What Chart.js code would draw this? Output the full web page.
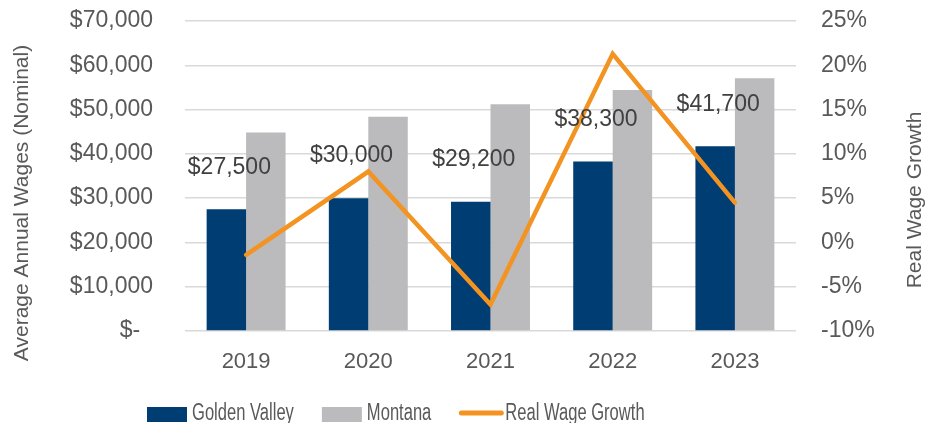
<!DOCTYPE html>
<html>
<head>
<meta charset="utf-8">
<script src="https://cdn.jsdelivr.net/npm/chart.js@4/dist/chart.umd.min.js"></script>
<style>
  html, body { margin: 0; padding: 0; background: #ffffff; overflow: hidden; }
  #wrap { width: 928px; height: 423px; }
</style>
</head>
<body>
<div id="wrap"><canvas id="c" width="928" height="423"></canvas></div>
<script>
const years = ['2019', '2020', '2021', '2022', '2023'];
const goldenValley = [27500, 30000, 29200, 38300, 41700];
const montana = [44800, 48400, 51200, 54400, 57100];
const realWageGrowth = [-1.4, 8.0, -7.0, 21.3, 4.5];
const seriesNames = ['Golden Valley', 'Montana', 'Real Wage Growth'];
const leftTitle = 'Average Annual Wages (Nominal)';
const rightTitle = 'Real Wage Growth';

const NAVY = '#003D73';
const GRAY = '#BBBBBD';
const ORANGE = '#F39321';
const TEXT = '#595959';
const LABEL = '#404040';
const GRID = '#D9D9D9';
const BASE_FONT = "'Liberation Sans', Arial, sans-serif";

function money(v) {
  if (v === 0) return '$-  ';
  return '$' + v.toLocaleString('en-US');
}

const barLabels = {
  id: 'barLabels',
  afterDatasetsDraw(chart) {
    const ctx = chart.ctx;
    const meta = chart.getDatasetMeta(0);
    ctx.save();
    ctx.font = '23px ' + BASE_FONT;
    ctx.fillStyle = LABEL;
    ctx.textAlign = 'center';
    ctx.textBaseline = 'middle';
    meta.data.forEach((bar, i) => {
      ctx.fillText(money(goldenValley[i]), bar.x + 3, bar.y - 42);
    });
    ctx.restore();
  }
};

const extras = {
  id: 'extras',
  afterDraw(chart) {
    const ctx = chart.ctx;
    ctx.save();
    // axis titles
    ctx.font = '21px ' + BASE_FONT;
    ctx.fillStyle = TEXT;
    ctx.textAlign = 'center';
    ctx.textBaseline = 'middle';
    ctx.save();
    ctx.translate(22, 203);
    ctx.rotate(-Math.PI / 2);
    ctx.fillText(leftTitle, 0, 0);
    ctx.restore();
    ctx.save();
    ctx.translate(915, 200);
    ctx.rotate(-Math.PI / 2);
    ctx.fillText(rightTitle, 0, 0);
    ctx.restore();

    // legend (condensed text)
    const ds = chart.data.datasets;
    const sx = 0.72;
    ctx.font = '23px ' + BASE_FONT;
    ctx.textAlign = 'left';
    ctx.textBaseline = 'middle';
    let x = 147;
    const cy = 414;
    ds.forEach((d) => {
      if (d.type === 'line') {
        ctx.strokeStyle = d.borderColor;
        ctx.lineWidth = 5;
        ctx.lineCap = 'round';
        ctx.beginPath();
        ctx.moveTo(x + 2, cy - 1);
        ctx.lineTo(x + 42, cy - 1);
        ctx.stroke();
        x += 46;
      } else {
        ctx.fillStyle = d.backgroundColor;
        ctx.fillRect(x, cy - 7, 40, 15);
        x += 45;
      }
      ctx.fillStyle = TEXT;
      ctx.save();
      ctx.translate(x, cy);
      ctx.scale(sx, 1);
      ctx.fillText(d.label, 0, 0);
      ctx.restore();
      x += ctx.measureText(d.label).width * sx + 28;
    });
    ctx.restore();
  }
};

new Chart(document.getElementById('c'), {
  data: {
    labels: years,
    datasets: [
      {
        type: 'bar', label: seriesNames[0], data: goldenValley,
        backgroundColor: NAVY, borderWidth: 0, yAxisID: 'y', order: 2,
        categoryPercentage: 0.646, barPercentage: 1.0
      },
      {
        type: 'bar', label: seriesNames[1], data: montana,
        backgroundColor: GRAY, borderWidth: 0, yAxisID: 'y', order: 2,
        categoryPercentage: 0.646, barPercentage: 1.0
      },
      {
        type: 'line', label: seriesNames[2], data: realWageGrowth,
        borderColor: ORANGE, backgroundColor: ORANGE, borderWidth: 4.5,
        pointRadius: 0, tension: 0, fill: false, yAxisID: 'y1', order: 1,
        borderCapStyle: 'round', borderJoinStyle: 'miter'
      }
    ]
  },
  options: {
    responsive: false,
    animation: false,
    devicePixelRatio: 1,
    layout: { padding: { top: 21, bottom: 0, left: 0, right: 0 } },
    plugins: {
      legend: { display: false },
      tooltip: { enabled: false }
    },
    scales: {
      x: {
        grid: { display: false, drawTicks: false },
        border: { display: false },
        ticks: { color: TEXT, font: { family: BASE_FONT, size: 22 }, padding: 18 },
        afterFit(s) { s.height = 92; }
      },
      y: {
        position: 'left',
        min: 0, max: 70000,
        grid: { color: GRID, lineWidth: 1.5, drawTicks: true, tickLength: 32, tickColor: 'rgba(0,0,0,0)' },
        border: { display: false },
        ticks: {
          stepSize: 10000, color: TEXT, padding: 0,
          font: { family: BASE_FONT, size: 23 },
          callback: (v) => money(v)
        },
        afterFit(s) { s.width = 185; }
      },
      y1: {
        position: 'right',
        min: -10, max: 25,
        grid: { display: false, drawTicks: true, tickLength: 25, tickColor: 'rgba(0,0,0,0)' },
        border: { display: false },
        ticks: {
          stepSize: 5, color: TEXT, padding: 0,
          font: { family: BASE_FONT, size: 23 },
          callback: (v) => v + '%'
        },
        afterFit(s) { s.width = 132; }
      }
    }
  },
  plugins: [barLabels, extras]
});
</script>
</body>
</html>
